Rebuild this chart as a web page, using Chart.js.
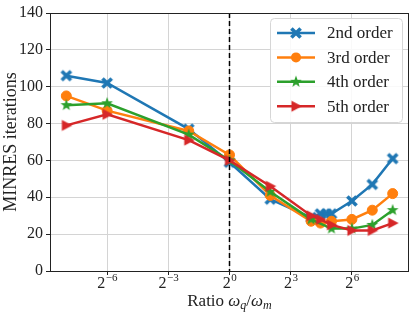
<!DOCTYPE html>
<html>
<head>
<meta charset="utf-8">
<script src="https://cdn.jsdelivr.net/npm/chart.js@4"></script>
<style>
html, body { margin: 0; padding: 0; background: #fff; }
</style>
</head>
<body>
<canvas id="chart" width="415" height="315"></canvas>
<script>
const seriesNames = ['2nd order', '3rd order', '4th order', '5th order'];
const ratios2nd = [1/256, 1/64, 1/4, 1, 4, 16, 22, 27, 32, 64, 128, 256];
const iters2nd  = [106, 102, 77, 59, 39, 29, 31, 31, 31, 38, 47, 61];
const ratios3rd = [1/256, 1/64, 1/4, 1, 4, 16, 22, 32, 64, 128, 256];
const iters3rd  = [95, 87, 76, 63, 41, 27, 26, 27, 28, 33, 42];
const ratios4th = [1/256, 1/64, 1/4, 1, 4, 16, 32, 64, 128, 256];
const iters4th  = [90, 91, 74, 60, 43, 28, 23, 23, 25, 33];
const ratios5th = [1/256, 1/64, 1/4, 1, 4, 16, 22, 32, 64, 128, 256];
const iters5th  = [79, 85, 71, 60, 46, 30, 28, 25, 22, 22, 26];
const xTickExponents = [-6, -3, 0, 3, 6];

const SERIF = '"Liberation Serif", "DejaVu Serif", serif';
const colors = ['#1f77b4', '#ff7f0e', '#2ca02c', '#d62728'];

function markerCanvas(kind, color) {
    const c = document.createElement('canvas');
    c.width = 14; c.height = 14;
    const g = c.getContext('2d');
    g.fillStyle = color;
    g.strokeStyle = color;
    g.translate(7, 7);
    if (kind === 'x') {
        g.lineWidth = 3.6;
        g.beginPath();
        g.moveTo(-4.6, -4.6); g.lineTo(4.6, 4.6);
        g.moveTo(4.6, -4.6); g.lineTo(-4.6, 4.6);
        g.stroke();
    } else if (kind === 'star') {
        g.beginPath();
        for (let i = 0; i < 10; i++) {
            const r = i % 2 ? 2.6 : 6.2;
            const a = -Math.PI / 2 + i * Math.PI / 5;
            g.lineTo(r * Math.cos(a), r * Math.sin(a));
        }
        g.closePath();
        g.fill();
    } else if (kind === 'tri') {
        g.beginPath();
        g.moveTo(6, 0); g.lineTo(-4.5, -5.5); g.lineTo(-4.5, 5.5);
        g.closePath();
        g.fill();
    }
    return c;
}

const markers = [
    markerCanvas('x', colors[0]),
    'circle',
    markerCanvas('star', colors[2]),
    markerCanvas('tri', colors[3])
];

function points(xs, ys) {
    return xs.map((x, i) => ({ x: x, y: ys[i] }));
}

const seriesData = [
    points(ratios2nd, iters2nd),
    points(ratios3rd, iters3rd),
    points(ratios4th, iters4th),
    points(ratios5th, iters5th)
];

const decorations = {
    id: 'decorations',
    afterDatasetsDraw(chart) {
        const { ctx, chartArea: a, scales: { x } } = chart;
        const px = x.getPixelForValue(1);
        ctx.save();
        ctx.strokeStyle = '#000';
        ctx.lineWidth = 1.5;
        ctx.setLineDash([5, 3]);
        ctx.beginPath();
        ctx.moveTo(px, a.top);
        ctx.lineTo(px, a.bottom);
        ctx.stroke();
        ctx.restore();
    },
    afterDraw(chart) {
        const { ctx, chartArea: a, scales: { x } } = chart;
        ctx.save();
        // frame
        ctx.strokeStyle = '#222';
        ctx.lineWidth = 1;
        ctx.strokeRect(a.left + 0.5, a.top + 0.5, a.right - a.left - 1, a.bottom - a.top);

        // x tick labels 2^n
        ctx.fillStyle = '#222';
        ctx.textBaseline = 'alphabetic';
        ctx.textAlign = 'left';
        xTickExponents.forEach(e => {
            const px = x.getPixelForValue(Math.pow(2, e));
            const exp = e < 0 ? '\u2212' + (-e) : String(e);
            ctx.font = '16px ' + SERIF;
            const w1 = ctx.measureText('2').width;
            ctx.font = '11px ' + SERIF;
            const w2 = ctx.measureText(exp).width;
            const start = px - (w1 + w2) / 2;
            ctx.font = '16px ' + SERIF;
            ctx.fillText('2', start, 288);
            ctx.font = '11px ' + SERIF;
            ctx.fillText(exp, start + w1 + 0.5, 281);
        });

        // x title: Ratio ω_q/ω_m
        const parts = [
            ['Ratio ', '17px ' + SERIF, 0],
            ['\u03c9', 'italic 17px ' + SERIF, 0],
            ['q', 'italic 12px ' + SERIF, 3],
            ['/', '17px ' + SERIF, 0],
            ['\u03c9', 'italic 17px ' + SERIF, 0],
            ['m', 'italic 12px ' + SERIF, 3]
        ];
        let total = 0;
        parts.forEach(p => { ctx.font = p[1]; total += ctx.measureText(p[0]).width; });
        let cx = (a.left + a.right) / 2 - total / 2;
        parts.forEach(p => {
            ctx.font = p[1];
            ctx.fillText(p[0], cx, 306 + p[2]);
            cx += ctx.measureText(p[0]).width;
        });

        // legend
        const lx = 270, ly = 18, lw = 132, lh = 104;
        ctx.beginPath();
        ctx.roundRect(lx + 0.5, ly + 0.5, lw, lh, 4);
        ctx.fillStyle = 'rgba(255,255,255,0.85)';
        ctx.fill();
        ctx.strokeStyle = '#d6d6d6';
        ctx.lineWidth = 1;
        ctx.stroke();
        chart.data.datasets.forEach((ds, i) => {
            const ry = 33 + i * 24.4;
            ctx.strokeStyle = colors[i];
            ctx.lineWidth = 2.5;
            ctx.beginPath();
            ctx.moveTo(277, ry);
            ctx.lineTo(315, ry);
            ctx.stroke();
            const m = markers[i];
            if (m === 'circle') {
                ctx.fillStyle = colors[i];
                ctx.beginPath();
                ctx.arc(296, ry, 5, 0, Math.PI * 2);
                ctx.fill();
            } else {
                ctx.drawImage(m, 296 - 7, ry - 7);
            }
            ctx.fillStyle = '#222';
            ctx.font = '17px ' + SERIF;
            ctx.textBaseline = 'middle';
            ctx.fillText(ds.label, 327, ry + 1);
        });
        ctx.restore();
    }
};

new Chart(document.getElementById('chart'), {
    type: 'line',
    data: {
        datasets: seriesNames.map((name, i) => ({
            label: name,
            data: seriesData[i],
            borderColor: colors[i],
            backgroundColor: colors[i],
            borderWidth: 2.5,
            pointStyle: markers[i],
            pointRadius: 5,
            pointHoverRadius: 5,
            pointBackgroundColor: colors[i],
            pointBorderColor: colors[i],
            pointBorderWidth: 1,
            tension: 0,
            fill: false,
            order: 4 - i
        }))
    },
    options: {
        responsive: false,
        animation: false,
        devicePixelRatio: 1,
        layout: { padding: { top: 13, right: 5, left: 0, bottom: 0 } },
        plugins: {
            legend: { display: false },
            tooltip: { enabled: false }
        },
        scales: {
            x: {
                type: 'logarithmic',
                min: Math.pow(2, -8.8),
                max: Math.pow(2, 8.8),
                afterBuildTicks: scale => {
                    scale.ticks = xTickExponents.map(e => ({ value: Math.pow(2, e) }));
                },
                afterFit: scale => { scale.height = 44; },
                ticks: { display: false },
                grid: { color: '#d4d4d4', lineWidth: 1, tickColor: '#222', tickLength: 4 },
                border: { display: false }
            },
            y: {
                min: 0,
                max: 140,
                afterFit: scale => { scale.width = 50; },
                ticks: {
                    stepSize: 20,
                    color: '#222',
                    padding: 3,
                    font: { family: SERIF, size: 16 }
                },
                grid: { color: '#d4d4d4', lineWidth: 1, tickColor: '#222', tickLength: 4 },
                border: { display: false },
                title: {
                    display: true,
                    text: 'MINRES iterations',
                    color: '#222',
                    padding: { top: 0, bottom: 0 },
                    font: { family: SERIF, size: 18 }
                }
            }
        }
    },
    plugins: [decorations]
});
</script>
</body>
</html>
